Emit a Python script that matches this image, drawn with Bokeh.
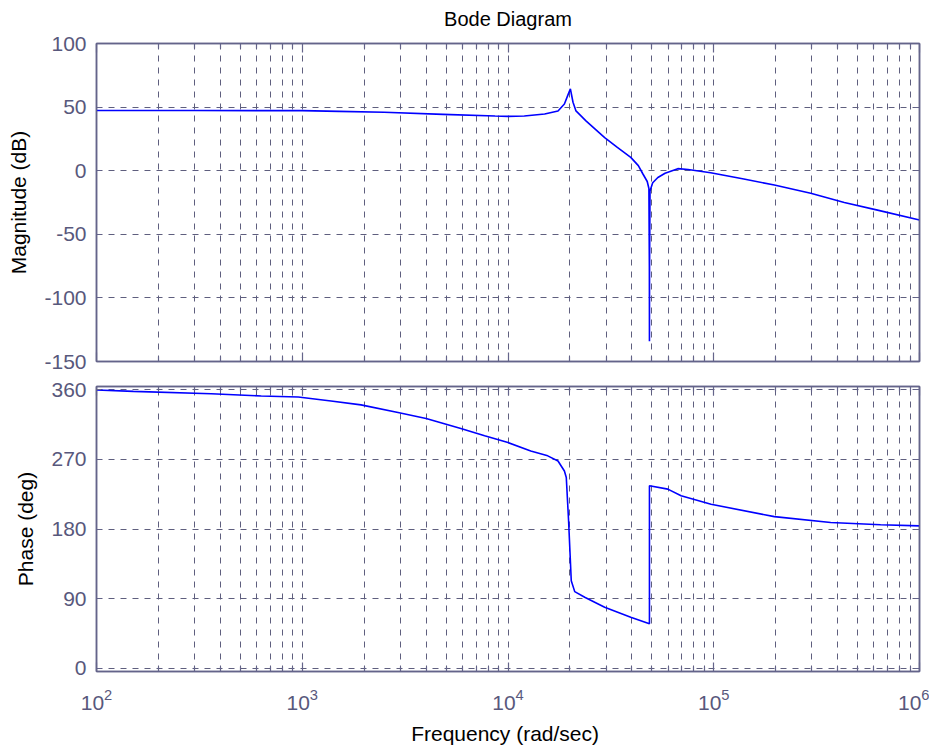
from bokeh.plotting import figure
from bokeh.layouts import column
from bokeh.models import Range1d, LogAxis, LinearAxis, FixedTicker, CustomJSTickFormatter
from bokeh.embed import file_html
from bokeh.resources import INLINE

# ---------------- data ----------------
freq_mag = [100, 300, 1000, 1510, 2500, 4830, 8650, 10000, 12000, 15070,
            17500, 18800, 19500, 20100, 20700, 21400, 24000, 29500, 34000, 39500,
            43000, 45200, 47500, 48400, 48650, 48700, 48750, 49000, 50500, 53500,
            58000, 66900, 75000, 96600, 140000, 197000, 296000, 431000, 625000, 1000000]
mag_db = [47.3, 47.3, 47.2, 46.6, 45.9, 44.3, 43.0, 42.7, 43.0, 44.6,
          47.0, 52.5, 59.0, 64.3, 53.8, 47.0, 39.0, 26.0, 18.3, 10.5,
          4.0, -2.4, -8.5, -14.0, -76.0, -134.0, -76.0, -16.0, -9.5, -5.3,
          -2.0, 1.6, 1.0, -1.6, -6.5, -11.3, -17.8, -25.0, -31.0, -38.8]

freq_phase = [100, 151, 361, 632, 956, 1380, 1930, 2920, 4000, 5900,
              7700, 10000, 12900, 15600, 17500, 18800, 19200, 19700, 20300, 21100,
              23600, 29500, 39500, 48700, 48700, 59800, 69400, 97000, 197000, 370000,
              647000, 1000000]
phase_deg = [359.8, 358.0, 355.0, 352.0, 350.8, 345.6, 340.5, 330.6, 323.0, 310.0,
             300.5, 291.8, 281.0, 274.6, 268.0, 255.0, 246.7, 190.7, 113.0, 99.0,
             91.7, 78.8, 65.9, 57.3, 236.0, 231.6, 223.0, 212.0, 196.0, 188.5,
             185.5, 184.0]

x_major_ticks = [1e2, 1e3, 1e4, 1e5, 1e6]
x_minor_ticks = [k * 10 ** d for d in range(2, 6) for k in range(2, 10)]
mag_ticks = [-150, -100, -50, 0, 50, 100]
phase_ticks = [0, 90, 180, 270, 360]

title_text = "Bode Diagram"
mag_label = "Magnitude (dB)"
phase_label = "Phase (deg)"
freq_label = "Frequency  (rad/sec)"

# ---------------- styling ----------------
FONT = "Liberation Sans"
AXC = "#64648a"
LABC = "#58587c"
GRIDC = "#5e5e7e"
LINEC = "#0000ff"
FS = "21px"


def style_axis(ax, ticker, labels=True, maj=6, minor=3, has_minor=False):
    ax.ticker = ticker
    ax.axis_line_color = AXC
    ax.axis_line_width = 1.5
    ax.major_tick_line_color = AXC
    ax.major_tick_line_width = 1.2
    ax.major_tick_in = maj
    ax.major_tick_out = 0
    if has_minor:
        ax.minor_tick_line_color = AXC
        ax.minor_tick_line_width = 1.2
        ax.minor_tick_in = minor
        ax.minor_tick_out = 0
    else:
        ax.minor_tick_line_color = None
    ax.major_label_text_font = FONT
    ax.major_label_text_font_size = FS
    ax.major_label_text_color = LABC
    ax.axis_label_text_font = FONT
    ax.axis_label_text_font_size = FS
    ax.axis_label_text_font_style = "normal"
    ax.axis_label_text_color = "#000000"
    if not labels:
        ax.formatter = CustomJSTickFormatter(code="return ''")
        ax.major_label_standoff = 0


def make_fig(y_range, y_ticks, frame_h, top, bottom, x_range, bottom_labels):
    p = figure(frame_width=823, frame_height=frame_h, x_axis_type="log",
               x_range=x_range, y_range=y_range,
               output_backend="svg", toolbar_location=None,
               min_border_left=96, min_border_right=10,
               min_border_top=top, min_border_bottom=bottom)
    p.title.visible = False
    p.background_fill_color = "white"
    p.border_fill_color = "white"
    p.outline_line_color = AXC
    p.outline_line_width = 1.5
    xt = FixedTicker(ticks=x_major_ticks, minor_ticks=x_minor_ticks)
    yt = FixedTicker(ticks=y_ticks)
    p.xgrid.ticker = xt
    p.ygrid.ticker = yt
    for g in (p.xgrid, p.ygrid):
        g.grid_line_color = GRIDC
        g.grid_line_dash = "6 6"
        g.grid_line_width = 1
    p.xgrid.minor_grid_line_color = GRIDC
    p.xgrid.minor_grid_line_dash = "6 6"
    p.xgrid.minor_grid_line_width = 1

    bottom_ax = p.below[0]
    style_axis(bottom_ax, xt, labels=bottom_labels, maj=9, minor=5, has_minor=True)

    left_ax = p.left[0]
    style_axis(left_ax, yt, labels=True, maj=5)
    left_ax.formatter = CustomJSTickFormatter(code="return String(tick)")
    left_ax.major_label_standoff = 10
    left_ax.axis_label_standoff = 11

    right = LinearAxis()
    style_axis(right, FixedTicker(ticks=y_ticks), labels=False, maj=5)
    p.add_layout(right, "right")

    top_ax = LogAxis()
    style_axis(top_ax, FixedTicker(ticks=x_major_ticks, minor_ticks=x_minor_ticks),
               labels=False, maj=9, minor=5, has_minor=True)
    p.add_layout(top_ax, "above")
    return p, bottom_ax, left_ax, top_ax


xr = Range1d(100, 1e6)

p1, b1, l1, t1 = make_fig(Range1d(-150, 100), mag_ticks, 318, 43, 12, xr, False)
l1.axis_label = mag_label
# chart title, drawn as the label of the top axis (centred over the frame)
t1.axis_label = title_text
t1.axis_label_text_font_size = "20px"
t1.axis_label_standoff = 14
p1.line(freq_mag, mag_db, line_color=LINEC, line_width=1.6)

p2, b2, l2, t2 = make_fig(Range1d(-4.3, 364.3), phase_ticks, 285, 13, 65, xr, True)
b2.major_label_standoff = 17
b2.axis_label = freq_label
b2.axis_label_standoff = 9
l2.axis_label = phase_label
p2.line(freq_phase, phase_deg, line_color=LINEC, line_width=1.6)

layout = column(p1, p2)

with open("out.html", "w") as f:
    f.write(file_html(layout, INLINE))
